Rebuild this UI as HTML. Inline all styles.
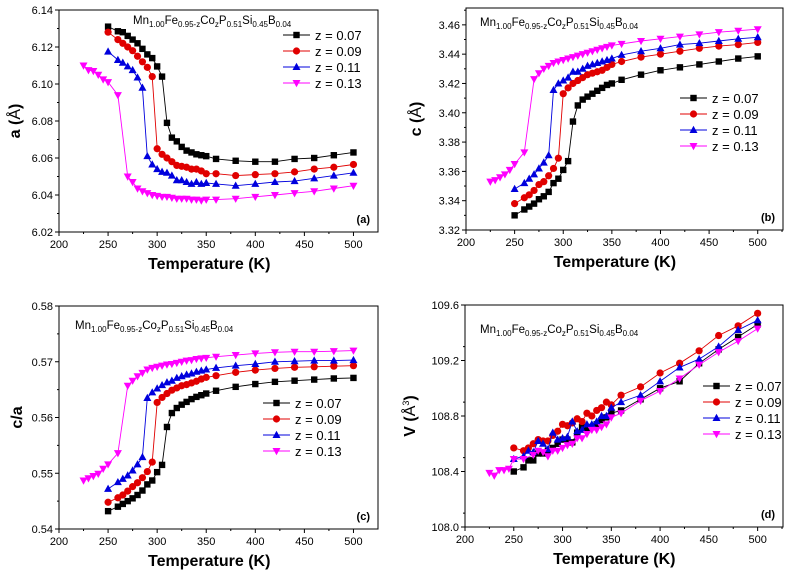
<!DOCTYPE html>
<html><head><meta charset="utf-8">
<style>
body{margin:0;background:#fff;}
svg{display:block;font-family:"Liberation Sans",Arial,sans-serif;}
</style></head>
<body>
<svg id="fig" width="790" height="576" viewBox="0 0 790 576" xmlns="http://www.w3.org/2000/svg"></svg>
<script>
const tMain = [250,260,265,270,275,280,285,290,295,300,305,310,315,320,325,330,335,340,345,350,360,380,400,420,440,460,480,500];
const t13 = [225,230,235,240,245,250,260,270,275,280,285,290,295,300,305,310,315,320,325,330,335,340,345,350,360,380,400,420,440,460,480,500];
const seriesLabels = ["z = 0.07","z = 0.09","z = 0.11","z = 0.13"];

const aZ07 = [6.131,6.1285,6.128,6.126,6.124,6.122,6.119,6.116,6.114,6.1095,6.104,6.079,6.071,6.069,6.066,6.064,6.063,6.062,6.0615,6.061,6.0595,6.0585,6.058,6.058,6.0595,6.060,6.0615,6.063];
const aZ09 = [6.128,6.124,6.122,6.120,6.118,6.115,6.112,6.109,6.104,6.065,6.062,6.060,6.058,6.056,6.0555,6.055,6.054,6.054,6.053,6.0515,6.0515,6.0505,6.051,6.0515,6.0525,6.054,6.055,6.0565];
const aZ11 = [6.1175,6.113,6.1115,6.1095,6.1075,6.1035,6.098,6.061,6.0565,6.054,6.0525,6.052,6.0505,6.048,6.048,6.047,6.046,6.047,6.046,6.0465,6.046,6.045,6.046,6.047,6.0475,6.049,6.0505,6.052];
const aZ13 = [6.110,6.1075,6.107,6.105,6.1025,6.101,6.094,6.050,6.047,6.0435,6.042,6.041,6.040,6.0395,6.039,6.039,6.0385,6.038,6.038,6.038,6.0375,6.0375,6.037,6.0375,6.0375,6.038,6.039,6.040,6.041,6.042,6.0435,6.045];

const cZ07 = [3.330,3.334,3.336,3.338,3.341,3.343,3.346,3.352,3.355,3.361,3.367,3.394,3.405,3.409,3.411,3.413,3.415,3.417,3.419,3.420,3.4225,3.426,3.429,3.431,3.433,3.435,3.437,3.4385];
const cZ09 = [3.338,3.342,3.344,3.347,3.351,3.353,3.357,3.362,3.369,3.413,3.417,3.420,3.422,3.424,3.426,3.427,3.428,3.429,3.431,3.433,3.435,3.438,3.440,3.442,3.444,3.4455,3.4465,3.448];
const cZ11 = [3.348,3.352,3.355,3.358,3.362,3.366,3.371,3.4155,3.420,3.422,3.424,3.428,3.428,3.430,3.432,3.433,3.434,3.435,3.436,3.437,3.4395,3.442,3.444,3.4465,3.4475,3.449,3.4505,3.4515];
const cZ13 = [3.353,3.354,3.356,3.358,3.361,3.365,3.373,3.423,3.427,3.430,3.432,3.434,3.435,3.436,3.437,3.438,3.439,3.440,3.441,3.442,3.443,3.444,3.445,3.446,3.447,3.449,3.4505,3.452,3.4535,3.455,3.456,3.457];

const caZ07 = [0.5432,0.5440,0.5445,0.5450,0.5455,0.5461,0.5469,0.5480,0.5487,0.5502,0.5515,0.5583,0.5608,0.5617,0.5623,0.5628,0.5633,0.5637,0.5640,0.5643,0.5648,0.5655,0.5660,0.5664,0.5666,0.5668,0.5670,0.5671];
const caZ09 = [0.5448,0.5456,0.5461,0.5468,0.5476,0.5483,0.5492,0.5503,0.5520,0.5627,0.5636,0.5643,0.5649,0.5653,0.5657,0.5659,0.5662,0.5665,0.5669,0.5672,0.5675,0.5681,0.5685,0.5688,0.5690,0.5691,0.5692,0.5693];
const caZ11 = [0.5472,0.5484,0.5490,0.5496,0.5505,0.5516,0.5529,0.5635,0.5645,0.5652,0.5658,0.5663,0.5666,0.5671,0.5674,0.5677,0.5679,0.5682,0.5684,0.5686,0.5689,0.5693,0.5696,0.5700,0.5701,0.5702,0.5702,0.5703];
const caZ13 = [0.5487,0.5491,0.5495,0.5499,0.5508,0.5516,0.5536,0.5657,0.5666,0.5674,0.5680,0.5686,0.5689,0.5691,0.5693,0.5695,0.5696,0.5698,0.5700,0.5702,0.5703,0.5705,0.5706,0.5707,0.5709,0.5712,0.5715,0.5717,0.5718,0.5718,0.5719,0.5720];

const vZ07 = [108.40,108.43,108.48,108.48,108.53,108.53,108.55,108.57,108.60,108.63,108.63,108.61,108.68,108.72,108.70,108.72,108.74,108.77,108.79,108.82,108.84,108.92,109.00,109.05,109.18,109.28,109.37,109.46];
const vZ09 = [108.57,108.55,108.57,108.60,108.63,108.62,108.62,108.66,108.69,108.74,108.73,108.75,108.78,108.76,108.82,108.80,108.84,108.86,108.90,108.88,108.95,109.01,109.11,109.18,109.27,109.38,109.45,109.54];
const vZ11 = [108.49,108.51,108.55,108.54,108.62,108.60,108.56,108.68,108.63,108.64,108.65,108.76,108.69,108.70,108.74,108.74,108.76,108.80,108.80,108.86,108.90,108.95,109.05,109.15,109.21,109.30,109.42,109.49];
const vZ13 = [108.39,108.37,108.41,108.41,108.42,108.49,108.49,108.52,108.55,108.54,108.51,108.55,108.55,108.57,108.59,108.60,108.64,108.64,108.67,108.70,108.70,108.72,108.74,108.79,108.82,108.91,108.98,109.07,109.17,109.26,109.34,109.43];

const xTicks = [200,250,300,350,400,450,500];
const aTicks = ["6.02","6.04","6.06","6.08","6.10","6.12","6.14"];
const cTicks = ["3.32","3.34","3.36","3.38","3.40","3.42","3.44","3.46"];
const caTicks = ["0.54","0.55","0.56","0.57","0.58"];
const vTicks = ["108.0","108.4","108.8","109.2","109.6"];

const NS = "http://www.w3.org/2000/svg";
const svg = document.getElementById('fig');
function mk(tag, attrs, parent){
  const e = document.createElementNS(NS, tag);
  for (const k in attrs) e.setAttribute(k, attrs[k]);
  (parent||svg).appendChild(e);
  return e;
}
const colors = ["#000000","#e00000","#0000dd","#ff00ff"];
const shapes = ["square","circle","up","down"];

function marker(g, shape, x, y, col){
  let m;
  if (shape==="square") m = mk('rect',{x:x-3.2,y:y-3.2,width:6.4,height:6.4,fill:col},g);
  else if (shape==="circle") m = mk('circle',{cx:x,cy:y,r:3.6,fill:col},g);
  else if (shape==="up") m = mk('polygon',{points:`${x},${y-4.2} ${x+4},${y+3} ${x-4},${y+3}`,fill:col},g);
  else m = mk('polygon',{points:`${x},${y+4.2} ${x+4},${y-3} ${x-4},${y-3}`,fill:col},g);
  return m;
}

function panel(p){
  const g = mk('g',{});
  
  
  const xs = v => p.x0 + (v - 200) / (p.xmax - 200) * (p.x1 - p.x0);
  const ys = v => p.y1 - (v - p.ymin) / (p.ymax - p.ymin) * (p.y1 - p.y0);
  const frame = mk('rect',{x:p.x0,y:p.y0,width:p.x1-p.x0,height:p.y1-p.y0,fill:'none',stroke:'#000','stroke-width':1},g);
  
  
  // x ticks
  xTicks.forEach((t,i)=>{
    const x = xs(t);
    mk('line',{x1:x,x2:x,y1:p.y1,y2:p.y1+4,stroke:'#000'},g);
    if (t+25 < p.xmax) { const xm = xs(t+25); mk('line',{x1:xm,x2:xm,y1:p.y1,y2:p.y1+2,stroke:'#000'},g); }
    const tx = mk('text',{x:x,y:p.y1+16,'font-size':11,'text-anchor':'middle'},g);
    tx.textContent = t;
    
    
  });
  // y ticks
  p.ticks.forEach((lab,i)=>{
    const v = parseFloat(lab);
    const y = ys(v);
    mk('line',{x1:p.x0-4,x2:p.x0,y1:y,y2:y,stroke:'#000'},g);
    const vm = v + p.step/2;
    if (vm < p.ymax) { const ym = ys(vm); mk('line',{x1:p.x0-2,x2:p.x0,y1:ym,y2:ym,stroke:'#000'},g); }
    const tx = mk('text',{x:p.x0-6,y:y+4,'font-size':11,'text-anchor':'end'},g);
    tx.textContent = lab;
    
    
  });
  // series
  p.series.forEach((vals,si)=>{
    const T = si===3 ? t13 : tMain;
    const sg = mk('g',{},g);
    
    
    const pts = vals.map((v,i)=>xs(T[i]).toFixed(1)+','+ys(v).toFixed(1)).join(' ');
    mk('polyline',{points:pts,fill:'none',stroke:colors[si],'stroke-width':0.9},sg);
    vals.forEach((v,i)=>{
      const m = marker(sg, shapes[si], xs(T[i]), ys(v), colors[si]);
      
      
    });
  });
  // legend
  const lg = mk('g',{},g);
  
  
  seriesLabels.forEach((lab,si)=>{
    const y = p.ly + si*16;
    const e = mk('g',{},lg);
    
    
    mk('line',{x1:p.lx,x2:p.lx+27,y1:y,y2:y,stroke:colors[si],'stroke-width':0.9},e);
    marker(e, shapes[si], p.lx+13.5, y, colors[si]);
    const tx = mk('text',{x:p.lx+32,y:y+5,'font-size':13},e);
    tx.textContent = lab;
  });
  // formula
  const f = mk('text',{x:p.fx,y:p.fy,'font-size':11.5},g);
  
  
  f.innerHTML = 'Mn<tspan font-size="8" dy="3">1.00</tspan><tspan dy="-3">Fe</tspan><tspan font-size="8" dy="3">0.95-z</tspan><tspan dy="-3">Co</tspan><tspan font-size="8" dy="3">z</tspan><tspan dy="-3">P</tspan><tspan font-size="8" dy="3">0.51</tspan><tspan dy="-3">Si</tspan><tspan font-size="8" dy="3">0.45</tspan><tspan dy="-3">B</tspan><tspan font-size="8" dy="3">0.04</tspan>';
  // panel letter
  const pl = mk('text',{x:p.x1-8,y:p.y1-9,'font-size':11,'font-weight':'bold','text-anchor':'end'},g);
  pl.textContent = p.letter;
  
  
  // axis titles
  const xt = mk('text',{x:(p.x0+xs(500))/2+3,y:p.y1+37,'font-size':16,'font-weight':'bold','text-anchor':'middle'},g);
  xt.textContent = 'Temperature (K)';
  
  
  const cy = (p.y0+p.y1)/2;
  const yt = mk('text',{x:p.ytx,y:cy,'font-size':16,'font-weight':'bold','text-anchor':'middle',transform:`rotate(-90 ${p.ytx} ${cy})`},g);
  yt.innerHTML = p.ytitle;
  
  
}

panel({name:'panel-a-lattice-a',x0:59,x1:378,y0:10,y1:232,xmax:525,ymin:6.02,ymax:6.14,step:0.02,ticks:aTicks,
  series:[aZ07,aZ09,aZ11,aZ13],lx:283,ly:35,fx:133,fy:24,letter:'(a)',ytx:20,ytitle:'a (<tspan font-weight="normal">Å</tspan>)'});
panel({name:'panel-b-lattice-c',x0:466,x1:783,y0:8,y1:230,xmax:526,ymin:3.32,ymax:3.4715,step:0.02,ticks:cTicks,
  series:[cZ07,cZ09,cZ11,cZ13],lx:680,ly:98,fx:480,fy:26,letter:'(b)',ytx:421,ytitle:'c (<tspan font-weight="normal">Å</tspan>)'});
panel({name:'panel-c-ratio',x0:59,x1:378,y0:306,y1:529,xmax:525,ymin:0.54,ymax:0.58,step:0.01,ticks:caTicks,
  series:[caZ07,caZ09,caZ11,caZ13],lx:263,ly:403,fx:75,fy:329,letter:'(c)',ytx:22,ytitle:'c/a'});
panel({name:'panel-d-volume',x0:465,x1:783,y0:305,y1:527,xmax:526,ymin:108.0,ymax:109.6,step:0.2,ticks:vTicks,
  series:[vZ07,vZ09,vZ11,vZ13],lx:703,ly:386,fx:480,fy:333,letter:'(d)',ytx:415,ytitle:'V (<tspan font-weight="normal">Å</tspan><tspan font-size="9" dy="-6" font-weight="normal">3</tspan><tspan dy="6">)</tspan>'});
</script>
</body></html>
